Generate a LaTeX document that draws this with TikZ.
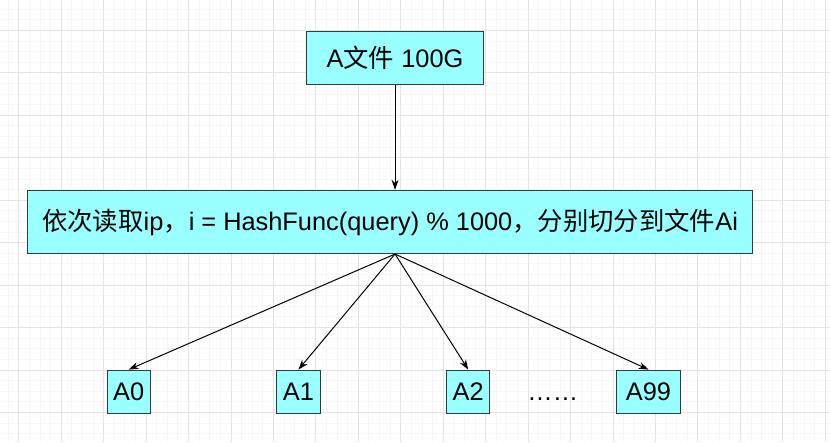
\documentclass[tikz,border=0pt]{standalone}
\usepackage{fontspec}
\setmainfont{Liberation Sans}
\newfontfamily\cjk{Noto Sans CJK SC}
\usetikzlibrary{arrows.meta,calc}
\newcommand{\zh}[1]{{\cjk #1}}
\definecolor{boxfill}{RGB}{153,255,255}
\definecolor{boxline}{RGB}{54,57,61}

\begin{document}
\begin{tikzpicture}[
  x=1pt, y=-1pt,
  box/.style={
      draw=boxline,
      fill=boxfill,
      line width=1pt,
      inner sep=0pt,
      font=\fontsize{25.4}{30}\selectfont
    },
  link/.style={
      arrows={-Stealth[length=10pt,width=7pt]},
      line width=1pt
    },
  minor/.style={
      draw={rgb,255:red,246;green,246;blue,246},
      line width=1pt
    },
  major/.style={
      draw={rgb,255:red,228;green,228;blue,228},
      line width=1pt
    }]
  % background grid
  \fill [white] (0,0) rectangle (830,442);
  \foreach \i in {-1,...,76}
    \draw [minor] ({18.3+10.625*\i},0) -- ++(0,442);
  \foreach \i in {-2,...,38}
    \draw [minor] (0,{30+10.625*\i}) -- ++(830,0);
  \foreach \i in {0,...,19}
    \draw [major] ({18.3+42.5*\i},0) -- ++(0,442);
  \foreach \i in {0,...,9}
    \draw [major] (0,{30+42.5*\i}) -- ++(830,0);
  \useasboundingbox (0,0) rectangle (830,442);

  \node [box, minimum width=178pt, minimum height=53pt] (file) at (395,57.5) {A\zh{文件} 100G};
  \node [box, minimum width=725.4pt, minimum height=63.3pt] (split) at (390,221.7)
    {\zh{依次读取}ip\zh{，}i = HashFunc(query) \% 1000\zh{，分别切分到文件}Ai};

  \node [box, minimum width=43.3pt, minimum height=43.3pt] (a0) at (128.3,391.7) {A0};
  \node [box, minimum width=43.3pt, minimum height=43.3pt] (a1) at (298.3,391.7) {A1};
  \node [box, minimum width=43.3pt, minimum height=43.3pt] (a2) at (468.3,391.7) {A2};
  \node [box, minimum width=64.3pt, minimum height=43.3pt] (a99) at (648.8,391.7) {A99};
  \node [font=\fontsize{25.4}{30}\selectfont, anchor=base, inner sep=0pt] (dots) at (553,400.7) {……};

  \coordinate (fan) at (file.south |- split.south);
  \draw [link] (file.south) -- (file.south |- split.north);
  \draw [link] (fan) -- (a0.north);
  \draw [link] (fan) -- (a1.north);
  \draw [link] (fan) -- (a2.north);
  \draw [link] (fan) -- (a99.north);
\end{tikzpicture}
\end{document}
